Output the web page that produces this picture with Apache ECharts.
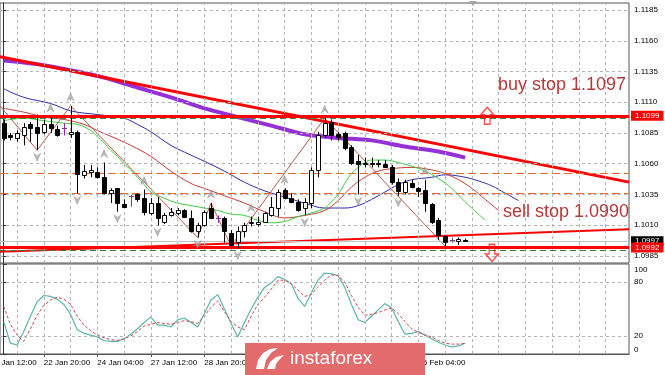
<!DOCTYPE html>
<html><head><meta charset="utf-8">
<script src="https://cdn.jsdelivr.net/npm/echarts@6/dist/echarts.min.js"></script>
<style>html,body{margin:0;padding:0;background:#fff}#c{width:665px;height:375px}</style>
</head><body><div id="c"></div>
<script>
// ---------- DATA ----------
// H4 candles: [open, close, low, high], bar index = array index
const candles = [
[1.1093,1.1081,1.1079,1.1096],[1.1083,1.1082,1.1079,1.1085],[1.1081,1.1085,1.1078,1.1087],[1.1083,1.1090,1.1075,1.1093],
[1.1092,1.1089,1.1078,1.1094],[1.1090,1.1085,1.1071,1.1100],[1.1086,1.1092,1.1084,1.1096],[1.1092,1.1089,1.1085,1.1098],
[1.1088,1.1083,1.1082,1.1091],[1.1089,1.1089,1.1083,1.1093],[1.1084,1.1086,1.1081,1.1107],[1.1086,1.1052,1.1036,1.1087],
[1.1051,1.1054,1.1048,1.1059],[1.1053,1.1055,1.1049,1.1059],[1.1053,1.1049,1.1048,1.1057],[1.1049,1.1036,1.1035,1.1061],
[1.1036,1.1039,1.1028,1.1040],[1.1040,1.1028,1.1021,1.1040],[1.1027,1.1025,1.1024,1.1031],[1.1034,1.1034,1.1025,1.1035],
[1.1035,1.1031,1.1029,1.1036],[1.1032,1.1021,1.1018,1.1039],[1.1020,1.1028,1.1018,1.1032],[1.1028,1.1016,1.1010,1.1033],
[1.1013,1.1018,1.1011,1.1020],[1.1018,1.1021,1.1017,1.1024],[1.1020,1.1022,1.1018,1.1024],[1.1022,1.1017,1.1016,1.1023],
[1.1016,1.1005,1.1004,1.1022],[1.1005,1.1010,1.1000,1.1012],[1.1010,1.1021,1.1009,1.1022],[1.1024,1.1016,1.1015,1.1028],
[1.1016,1.1016,1.1012,1.1018],[1.1016,1.1005,1.0996,1.1017],[1.1004,1.0994,1.0993,1.1006],[1.0996,1.1005,1.0991,1.1009],
[1.1005,1.1010,1.1000,1.1012],[1.1012,1.1013,1.1009,1.1017],[1.1011,1.1013,1.1009,1.1017],[1.1013,1.1020,1.1012,1.1021],
[1.1018,1.1025,1.1017,1.1033],[1.1024,1.1037,1.1017,1.1039],[1.1039,1.1032,1.1031,1.1040],[1.1032,1.1029,1.1028,1.1036],
[1.1029,1.1022,1.1021,1.1031],[1.1024,1.1029,1.1018,1.1032],[1.1028,1.1055,1.1024,1.1057],[1.1055,1.1083,1.1049,1.1086],
[1.1083,1.1093,1.1081,1.1097],[1.1094,1.1083,1.1079,1.1096],[1.1084,1.1082,1.1079,1.1086],[1.1085,1.1073,1.1071,1.1086],
[1.1074,1.1061,1.1059,1.1075],[1.1062,1.1060,1.1035,1.1067],[1.1061,1.1060,1.1057,1.1065],[1.1061,1.1060,1.1057,1.1065],
[1.1061,1.1060,1.1057,1.1063],[1.1060,1.1057,1.1057,1.1063],[1.1057,1.1045,1.1043,1.1059],[1.1045,1.1038,1.1034,1.1048],
[1.1037,1.1045,1.1035,1.1047],[1.1044,1.1041,1.1040,1.1047],[1.1040,1.1038,1.1033,1.1041],[1.1039,1.1028,1.1021,1.1047],
[1.1027,1.1013,1.1011,1.1028],[1.1014,1.1002,1.0998,1.1016],[1.1001,1.0996,1.0993,1.1002],[1.0998,1.0998,1.0996,1.1000],
[1.0997,1.0999,1.0994,1.1000],[1.0998,1.0997,1.0997,1.0999]
];
// Alligator lines [bar, price] (shifted forward)
const jaw = [[0,1.1121],[3,1.1114],[7,1.1109],[10,1.1103],[14,1.1100],[18,1.1097],[20,1.1092],[22,1.1086],[25,1.1075],[28,1.1067],[30,1.1062],[33,1.1054],[36,1.1045],[39,1.1038],[42,1.1033],[45,1.1028],[48,1.1024],[51,1.1024],[53,1.1026],[55,1.1031],[57,1.1037],[59,1.1043],[61,1.1047],[64,1.1049],[66,1.1051],[69,1.1049],[71,1.1046],[73,1.1042],[75,1.1036],[77,1.1030]];
const teeth = [[0,1.1105],[3,1.1102],[6,1.1098],[9,1.1096],[12,1.1092],[14,1.1087],[17,1.1080],[19,1.1075],[22,1.1066],[25,1.1054],[28,1.1044],[30,1.1040],[33,1.1034],[36,1.1028],[39,1.1021],[42,1.1016],[45,1.1018],[48,1.1022],[50,1.1030],[52,1.1041],[54,1.1049],[56,1.1054],[58,1.1056],[61,1.1057],[64,1.1055],[66,1.1052],[68,1.1047],[70,1.1040],[72,1.1031],[74,1.1022]];
const lips = [[0,1.1095],[3,1.1097],[6,1.1095],[9,1.1093],[11,1.1092],[13,1.1087],[14,1.1082],[15,1.1077],[16,1.1071],[17,1.1066],[18,1.1060],[19,1.1055],[20,1.1049],[21,1.1043],[22,1.1037],[24,1.1032],[26,1.1028],[28,1.1026],[30,1.1024],[32,1.1022],[34,1.1019],[36,1.1018],[38,1.1014],[40,1.1012],[42,1.1013],[44,1.1017],[46,1.1020],[48,1.1024],[49,1.1029],[50,1.1035],[51,1.1044],[52,1.1052],[53,1.1057],[54,1.1061],[55,1.1063],[57,1.1063],[59,1.1061],[61,1.1058],[63,1.1054],[65,1.1048],[67,1.1040],[69,1.1029],[71,1.1019],[72,1.1014]];
const maSlow = [[0,1.1144],[5,1.1141],[10,1.1136],[15,1.1130],[20,1.1122],[25,1.1114],[30,1.1105],[35,1.1098],[40,1.1091],[45,1.1084],[50,1.1081],[55,1.1079],[60,1.1074],[65,1.1070],[69,1.1065]];
const zigzag = [[-1,1.1110],[5,1.1071],[10,1.1107],[29,1.1000],[31,1.1028],[34,1.0993],[48,1.1097],[66,1.0993]];
const fractalUp = [7,10,15,21,31,37,42,48,63];
const fractalDown = [5,11,17,23,29,35,45,53,59];
const trendDown = [[-0.55,1.1147],[93.5,1.1045]];
const trendUp = [[-0.55,1.09885],[93.5,1.10067]];
// Levels
const buyStop = 1.1097, sellStop = 1.0990;
const levelHigh = 1.1099, levelLow = 1.0992, bidPrice = 1.0997;
const orangeLevels = [1.10525, 1.10362];
const arrowUp = [[72.3, 1.1099]];
const arrowDown = [[73.0, 1.09875]];
// Stochastic
const stochK = [36,12,10,25,42,58,65,64,61,55,44,27,23,21,19,15,14,14,17,22,28,35,41,32,32,30,38,40,35,30,45,60,66,50,34,19,35,50,63,74,79,86,83,78,62,53,68,82,90,89,87,74,55,38,35,42,49,56,51,36,22,23,25,21,17,13,10,8,9,12];
const stochD = [53,33,21,14,28,43,54,60,63,61,55,42,32,26,21,18,16,15,17,20,25,31,33,35,34,33,35,37,36,34,42,52,59,47,36,30,27,42,55,63,72,82,82,78,71,64,66,75,82,88,87,80,65,52,43,44,46,49,51,45,36,28,24,21,19,15,12,11,11,12];
// Axis ticks
const priceTicks = [1.0985,1.1010,1.1035,1.1060,1.1085,1.1110,1.1135,1.1160,1.1185];
const stochTicks = [0,20,80,100];
const timeTickIdx = [-2,6,14,22,30,38,46,54,62];
const timeTickLabels = ['21 Jan 12:00','22 Jan 20:00','24 Jan 04:00','27 Jan 12:00','28 Jan 20:00','30 Jan 04:00','31 Jan 12:00','03 Feb 20:00','05 Feb 04:00'];

// ---------- CHART ----------
const X_MIN = -0.552, X_MAX = 93.5;
const P_MIN = 1.09793, P_MAX = 1.11907;
const FONT = 'Liberation Sans, Arial, sans-serif';
const gridLine = {color:'#b4b4b4', type:[3,3], width:1};
const vGrid = [];
for (let k = 2; k <= X_MAX; k += 4) vGrid.push({xAxis:k});

const chart = echarts.init(document.getElementById('c'));
const lineBase = {type:'line', showSymbol:false, symbol:'none', silent:true, xAxisIndex:0, yAxisIndex:0};

const option = {
  animation:false,
  backgroundColor:'#fff',
  textStyle:{fontFamily:FONT},
  grid:[
    {left:-1, top:3, width:630, height:260, show:true, borderColor:'#555', borderWidth:1, backgroundColor:'transparent'},
    {left:-1, top:264, width:630, height:90, show:true, borderColor:'#555', borderWidth:1, backgroundColor:'transparent'}
  ],
  xAxis:[
    {type:'value', gridIndex:0, min:X_MIN, max:X_MAX, show:true, axisLine:{show:false}, axisTick:{show:false}, axisLabel:{show:false}, splitLine:{show:false}},
    {type:'value', gridIndex:1, min:X_MIN, max:X_MAX,
      axisLine:{show:true, lineStyle:{color:'#555'}},
      axisTick:{show:true, customValues:timeTickIdx.slice(1), length:3, lineStyle:{color:'#555'}},
      axisLabel:{customValues:timeTickIdx.slice(1), formatter:v=>timeTickLabels[timeTickIdx.indexOf(Math.round(v))]||'', align:'left', fontSize:8, color:'#000', margin:5, fontFamily:FONT},
      splitLine:{show:false}}
  ],
  yAxis:[
    {type:'value', gridIndex:0, position:'right', min:P_MIN, max:P_MAX,
      axisLine:{show:true, lineStyle:{color:'#333'}},
      axisTick:{show:true, customValues:priceTicks, length:3, lineStyle:{color:'#333'}},
      axisLabel:{customValues:priceTicks, formatter:v=>v.toFixed(4), fontSize:8, color:'#000', margin:5, fontFamily:FONT},
      splitLine:{show:false}},
    {type:'value', gridIndex:1, position:'right', min:0, max:100,
      axisLine:{show:true, lineStyle:{color:'#333'}},
      axisTick:{show:true, customValues:stochTicks, length:3, lineStyle:{color:'#333'}},
      axisLabel:{customValues:stochTicks, fontSize:8, color:'#000', margin:5, fontFamily:FONT,
        formatter:v=> v===100 ? '{a|100}' : (v===0 ? '{b|0}' : String(v)),
        rich:{a:{padding:[12,0,0,0], fontSize:8, color:'#000'}, b:{padding:[0,0,8,0], fontSize:8, color:'#000'}}},
      splitLine:{show:false}}
  ],
  series:[
    // grid lines main
    {type:'line', xAxisIndex:0, yAxisIndex:0, data:[], silent:true, z:1,
      markLine:{silent:true, precision:6, symbol:'none', animation:false, label:{show:false}, lineStyle:gridLine,
        data:[...vGrid, ...priceTicks.map(v=>({yAxis:v}))]}},
    // grid lines stoch
    {type:'line', xAxisIndex:1, yAxisIndex:1, data:[], silent:true, z:1,
      markLine:{silent:true, precision:6, symbol:'none', animation:false, label:{show:false}, lineStyle:gridLine,
        data:[...vGrid, {yAxis:80}, {yAxis:20}]}},
    // order / price levels
    {type:'line', xAxisIndex:0, yAxisIndex:0, data:[], silent:true, z:3,
      markLine:{silent:true, precision:6, symbol:'none', animation:false,
        data:[
          ...orangeLevels.map(v=>({yAxis:v, label:{show:false}, lineStyle:{color:'#ec6a30', type:[8,4], width:1}})),
          {yAxis:buyStop, label:{show:false}, lineStyle:{color:'#3c8a3c', type:[6,4], width:1}},
          {yAxis:sellStop, label:{show:false}, lineStyle:{color:'#3c7a3c', type:[6,4], width:1}},
          {yAxis:bidPrice, lineStyle:{color:'#c4c4c4', type:'solid', width:1},
            label:{show:true, position:'end', distance:2, formatter:bidPrice.toFixed(4), color:'#fff', backgroundColor:'#000', padding:[1,4,1,4], fontSize:8, fontFamily:FONT}},
          {yAxis:levelHigh, lineStyle:{color:'#ff0000', type:'solid', width:3},
            label:{show:true, position:'end', distance:2, formatter:levelHigh.toFixed(4), color:'#fff', backgroundColor:'#ff0000', padding:[1,4,1,4], fontSize:8, fontFamily:FONT}},
          {yAxis:levelLow, lineStyle:{color:'#ff0000', type:'solid', width:3},
            label:{show:true, position:'end', distance:2, formatter:levelLow.toFixed(4), color:'#fff', backgroundColor:'#ff0000', padding:[1,4,1,4], fontSize:8, fontFamily:FONT}}
        ]}},
    // moving averages
    Object.assign({}, lineBase, {data:maSlow, smooth:0.3, lineStyle:{color:'#9530d8', width:4}, z:3}),
    Object.assign({}, lineBase, {data:jaw, smooth:0.4, lineStyle:{color:'#2c2cae', width:1}, z:3}),
    Object.assign({}, lineBase, {data:teeth, smooth:0.4, lineStyle:{color:'#c83a3a', width:1}, z:3}),
    Object.assign({}, lineBase, {data:lips, smooth:0.4, lineStyle:{color:'#3ccc3c', width:1}, z:3}),
    // zigzag
    Object.assign({}, lineBase, {data:zigzag, lineStyle:{color:'#b85a4a', width:1}, z:3}),
    // trend lines
    Object.assign({}, lineBase, {data:trendDown, lineStyle:{color:'#ff0000', width:2.8}, z:4}),
    Object.assign({}, lineBase, {data:trendUp, lineStyle:{color:'#ff0000', width:2}, z:4}),
    // candles
    {type:'custom', xAxisIndex:0, yAxisIndex:0, z:6, silent:true, clip:true,
      data:candles.map((c,i)=>[i,c[0],c[1],c[2],c[3]]),
      encode:{x:0, y:[1,2,3,4]},
      renderItem:(params, api)=>{
        const i=api.value(0), o=api.value(1), c=api.value(2), l=api.value(3), h=api.value(4);
        const po=api.coord([i,o]), pc=api.coord([i,c]), pl=api.coord([i,l]), ph=api.coord([i,h]);
        const x=Math.round(po[0])+0.5;
        const doji = o===c, bull = c>o;
        const col = doji ? '#8a2c9e' : '#000';
        const ch=[{type:'line', shape:{x1:x,y1:ph[1],x2:x,y2:pl[1]}, style:{stroke:col, lineWidth:1}}];
        if (doji) {
          const y=Math.round(po[1])+0.5;
          ch.push({type:'line', shape:{x1:x-2.5,y1:y,x2:x+2.5,y2:y}, style:{stroke:col, lineWidth:1}});
        } else {
          const top=Math.round(Math.min(po[1],pc[1]))+0.5, bot=Math.round(Math.max(po[1],pc[1]))+0.5;
          ch.push({type:'rect', shape:{x:x-2, y:top, width:4, height:Math.max(bot-top,1)}, style:{fill:bull?'#fff':'#000', stroke:'#000', lineWidth:1}});
        }
        return {type:'group', children:ch};
      }},
    // fractals
    {type:'scatter', xAxisIndex:0, yAxisIndex:0, silent:true, z:5,
      data:fractalUp.map(i=>[i, candles[i][3]]),
      symbol:'path://M0,0 L5,9 L0,6 L-5,9 Z', symbolSize:[7,8], symbolOffset:[0,-9],
      itemStyle:{color:'#a9a9a9', borderColor:'#8a8a8a', borderWidth:0.5}},
    {type:'scatter', xAxisIndex:0, yAxisIndex:0, silent:true, z:5,
      data:fractalDown.map(i=>[i, candles[i][2]]),
      symbol:'path://M0,9 L5,0 L0,3 L-5,0 Z', symbolSize:[7,8], symbolOffset:[0,7],
      itemStyle:{color:'#a9a9a9', borderColor:'#8a8a8a', borderWidth:0.5}},
    // order arrows
    {type:'scatter', xAxisIndex:0, yAxisIndex:0, silent:true, z:7, data:arrowUp,
      symbol:'path://M0,0 L7,7 L3,7 L3,16 L-3,16 L-3,7 L-7,7 Z', symbolSize:[13,17],
      itemStyle:{color:'rgba(255,255,255,0)', borderColor:'#ff2020', borderWidth:1.4}},
    {type:'scatter', xAxisIndex:0, yAxisIndex:0, silent:true, z:7, data:arrowDown,
      symbol:'path://M-3,0 L3,0 L3,9 L7,9 L0,16 L-7,9 L-3,9 Z', symbolSize:[13,17],
      itemStyle:{color:'rgba(255,255,255,0)', borderColor:'#ff2020', borderWidth:1.4}},
    // stochastic
    {type:'line', xAxisIndex:1, yAxisIndex:1, showSymbol:false, symbol:'none', silent:true, z:3,
      data:stochK.map((v,i)=>[i,v]), lineStyle:{color:'#5ab6ac', width:1.2}},
    {type:'line', xAxisIndex:1, yAxisIndex:1, showSymbol:false, symbol:'none', silent:true, z:4,
      data:stochD.map((v,i)=>[i,v]), lineStyle:{color:'#d04848', width:1, type:[3,2]}}
  ],
  graphic:[
    {type:'polygon', z:50, shape:{points:[[469,1],[477,1],[473,6]]}, style:{fill:'#a6a6a6'}},
    {type:'text', z:50, style:{text:'buy stop 1.1097', x:498, y:85, verticalAlign:'middle', align:'left', font:'18px '+FONT, fill:'#b23a3a'}},
    {type:'text', z:50, style:{text:'sell stop 1.0990', x:503, y:212, verticalAlign:'middle', align:'left', font:'18px '+FONT, fill:'#b23a3a'}},
    {type:'group', z:100, children:[
      {type:'rect', z:100, shape:{x:245, y:343, width:180, height:32}, style:{fill:'#e36b6b'}},
      {type:'polygon', z:101, shape:{points:[[256,369],[258,360],[263,353],[270,349],[278,348],[271,353],[266,360],[264,369]]}, style:{fill:'#fff'}},
      {type:'polygon', z:101, shape:{points:[[267,369],[270,362],[276,357],[284,355],[279,360],[276,364],[275,369]]}, style:{fill:'#fff'}},
      {type:'text', z:101, style:{text:'instaforex', x:290, y:358.5, verticalAlign:'middle', align:'left', font:'19px '+FONT, fill:'#fff'}}
    ]}
  ]
};
chart.setOption(option);
// first time label sits left of the visible range: place it through the axis scale
const x0 = chart.convertToPixel({xAxisIndex:1}, timeTickIdx[0]);
chart.setOption({graphic:[{id:'firstTimeLabel', type:'text', z:40, style:{text:timeTickLabels[0], x:x0, y:359, verticalAlign:'top', align:'left', font:'8px '+FONT, fill:'#000'}}]});
</script></body></html>
